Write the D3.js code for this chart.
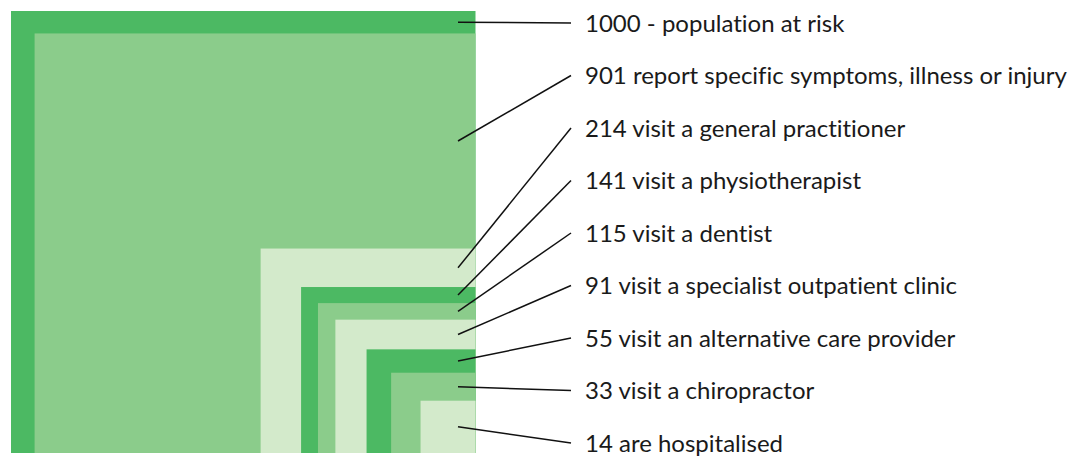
<!DOCTYPE html>
<html>
<head>
<meta charset="utf-8">
<script src="https://cdn.jsdelivr.net/npm/d3@7"></script>
<style>
  body { margin: 0; background: #fff; }
  text { font-family: Lato, "Open Sans", sans-serif; fill: #1a1a1a; font-variant-ligatures: none; }
</style>
</head>
<body>
<div id="chart"></div>
<script>
// nested squares: each area proportional to count out of 1000
const counts = [1000, 901, 214, 141, 115, 91, 55, 33, 14];
const labels = [
    "1000 - population at risk",
    "901 report specific symptoms, illness or injury",
    "214 visit a general practitioner",
    "141 visit a physiotherapist",
    "115 visit a dentist",
    "91 visit a specialist outpatient clinic",
    "55 visit an alternative care provider",
    "33 visit a chiropractor",
    "14 are hospitalised"
];
const palette = ["#4cb963", "#8bcc8b", "#d3eacb"];

const width = 1075, height = 458;
const right = 475.5, bottom = 453;

const svg = d3.select("#chart")
    .append("svg")
    .attr("width", width)
    .attr("height", height);

// side lengths scale with sqrt of count
const wScale = d3.scaleSqrt().domain([0, 1000]).range([0, 464.5]);
const hScale = d3.scaleSqrt().domain([0, 1000]).range([0, 442]);

const data = counts.map((c, i) => ({ count: c, label: labels[i], i }));

svg.selectAll(".sq")
    .data(data)
    .enter()
    .append("rect")
    .attr("class", "sq")
    .attr("x", d => right - wScale(d.count))
    .attr("y", d => bottom - hScale(d.count))
    .attr("width", d => wScale(d.count))
    .attr("height", d => hScale(d.count))
    .attr("fill", d => palette[d.i % 3]);

// label rows
const yLab = d3.scalePoint().domain(labels).range([23, 443]);

// leader line starts in the middle of each visible band
function bandMid(d) {
    const top = bottom - hScale(d.count);
    const next = d.i + 1 < counts.length ? bottom - hScale(counts[d.i + 1]) : bottom;
    return (top + next) / 2;
}

svg.selectAll(".leader")
    .data(data)
    .enter()
    .append("line")
    .attr("class", "leader")
    .attr("x1", right - 17.5)
    .attr("y1", bandMid)
    .attr("x2", 571)
    .attr("y2", d => yLab(d.label))
    .attr("stroke", "#111")
    .attr("stroke-width", 1.5);

svg.selectAll(".lab")
    .data(data)
    .enter()
    .append("text")
    .attr("class", "lab")
    .attr("x", 585)
    .attr("y", d => yLab(d.label))
    .attr("dy", "0.36em")
    .attr("font-size", 24)
    .text(d => d.label);
</script>
</body>
</html>
